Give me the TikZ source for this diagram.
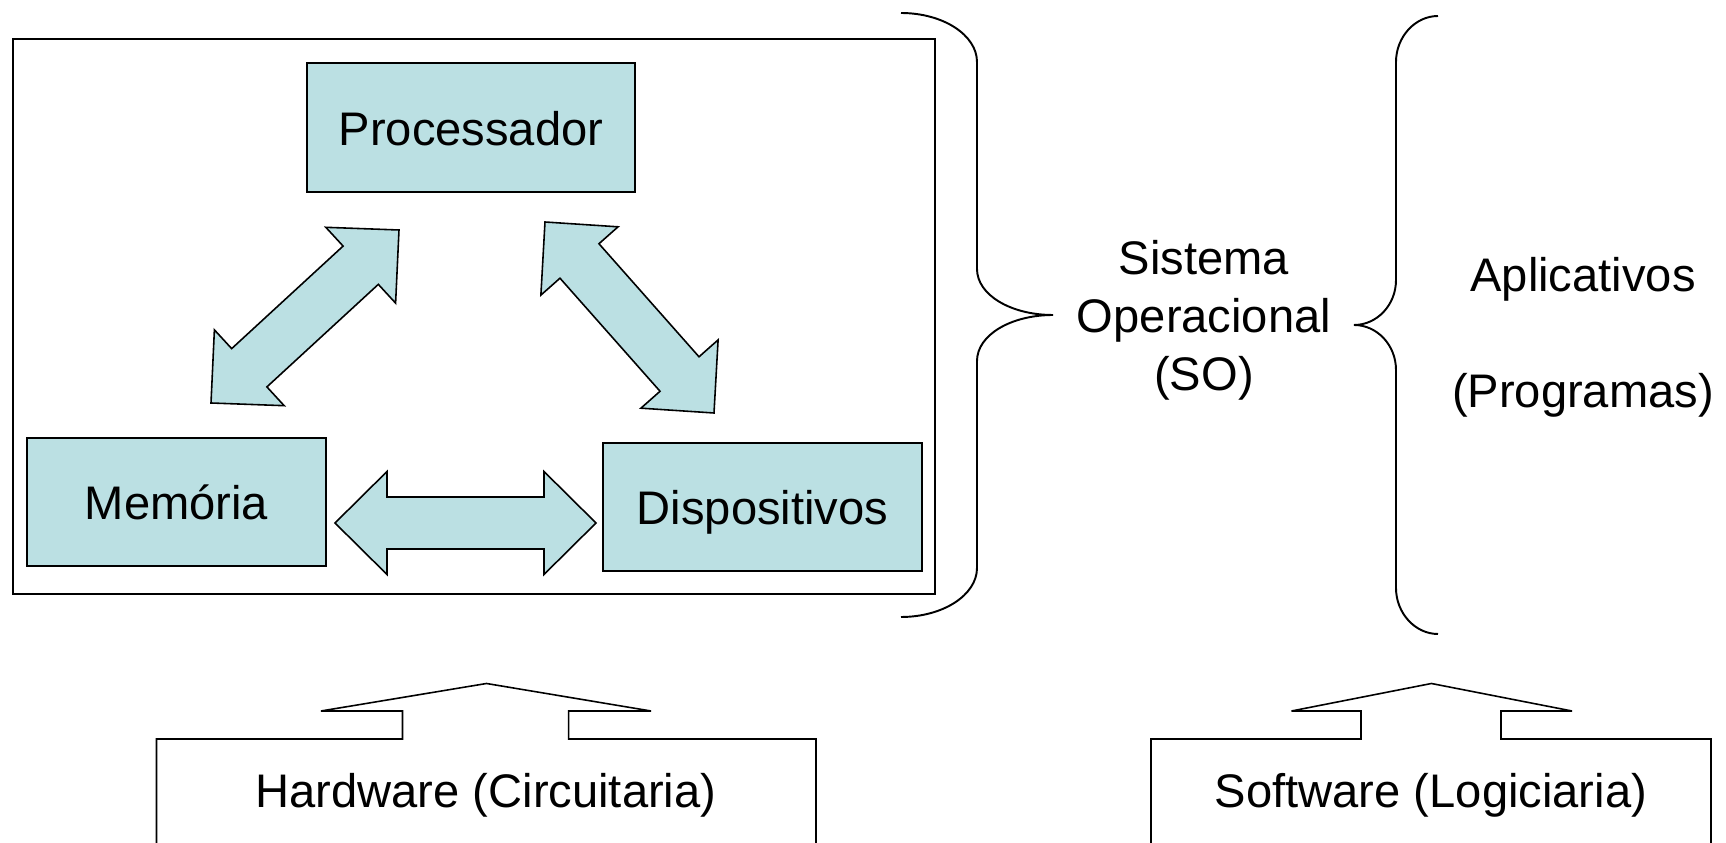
\documentclass[tikz,border=0pt]{standalone}
\usepackage{fontspec}
\setmainfont{Liberation Sans}
\usepackage{tikz}
\usetikzlibrary{calc, positioning}
\definecolor{boxfill}{HTML}{BBE0E3}

\begin{document}
\begin{tikzpicture}[x=0.01cm, y=-0.01cm, font=\fontsize{13.4pt}{16.5pt}\selectfont]

\useasboundingbox (0,0) rectangle (1726,843);

% Styles
\tikzset{
  box/.style={draw, fill=boxfill, line width=0.45pt, inner sep=0pt, text height=1.09em, text depth=0.09em},
  lbl/.style={align=center, inner sep=0pt},
  blockarrow/.style={draw, fill=boxfill, line width=0.45pt, line join=miter},
  brace/.style={draw, line width=0.55pt},
  callout/.style={draw, line width=0.45pt}
}

% Hardware frame
\draw[line width=0.45pt] (13,39) rectangle (935,594);

% Components
\node[box, minimum width=3.28cm, minimum height=1.29cm] (proc) at (471,127.5) {Processador};
\node[box, minimum width=2.99cm, minimum height=1.28cm] (mem) at (176.5,502) {Memória};
\node[box, minimum width=3.19cm, minimum height=1.28cm] (disp) at (762.5,507) {Dispositivos};

% Arrow ends
\coordinate (mp1) at (211,403);
\coordinate (mp2) at (399,230);
\coordinate (pd1) at (545,222);
\coordinate (pd2) at (714,413);
\coordinate (md1) at (335,523);
\coordinate (md2) at (596,523);

% Double block arrows
\foreach \a/\b in {mp1/mp2, pd1/pd2, md1/md2} {
  \coordinate (ha) at ($(\a)!0.52cm!(\b)$);
  \coordinate (hb) at ($(\b)!0.52cm!(\a)$);
  \draw[blockarrow] (\a)
    -- ($(ha)!0.515cm!90:(\b)$) -- ($(ha)!0.26cm!90:(\b)$)
    -- ($(hb)!0.26cm!-90:(\a)$) -- ($(hb)!0.515cm!-90:(\a)$)
    -- (\b)
    -- ($(hb)!0.515cm!90:(\a)$) -- ($(hb)!0.26cm!90:(\a)$)
    -- ($(ha)!0.26cm!-90:(\b)$) -- ($(ha)!0.515cm!-90:(\b)$)
    -- cycle;
}

% Braces
\draw[brace] (901,13) .. controls (943,13) and (977,35) .. (977,62) -- (977,269)
  .. controls (977,295) and (1011,315) .. (1053,315)
  .. controls (1011,315) and (977,335) .. (977,361) -- (977,568)
  .. controls (977,595) and (943,617) .. (901,617);
\draw[brace] (1438,16) .. controls (1415,16) and (1396,37) .. (1396,62) -- (1396,280)
  .. controls (1396,305) and (1377,325) .. (1354,325)
  .. controls (1377,325) and (1396,345) .. (1396,370) -- (1396,588)
  .. controls (1396,613) and (1415,634) .. (1438,634);

% Labels
\node[lbl] (so) at (1204,320) {Sistema\\Operacional\\(SO)};
\node[lbl] (apps) at (1583,337) {Aplicativos\\[16.5pt](Programas)};

% Bottom callouts
\draw[callout] (156.5,843) |- (402.5,739) |- (321,711) -- (486.5,683.5) -- (651,711) -| (568.6,739) -| (816,843);
\node[lbl, text height=0.97em, text depth=0.12em] (hw) at (486,793) {Hardware (Circuitaria)};

\draw[callout] (1151,843) |- (1361,739) |- (1291.5,711) -- (1431.4,683.5) -- (1572,711) -| (1501,739) -| (1711,843);
\node[lbl, text height=0.97em, text depth=0.12em] (sw) at (1431,793) {Software (Logiciaria)};

\end{tikzpicture}
\end{document}
